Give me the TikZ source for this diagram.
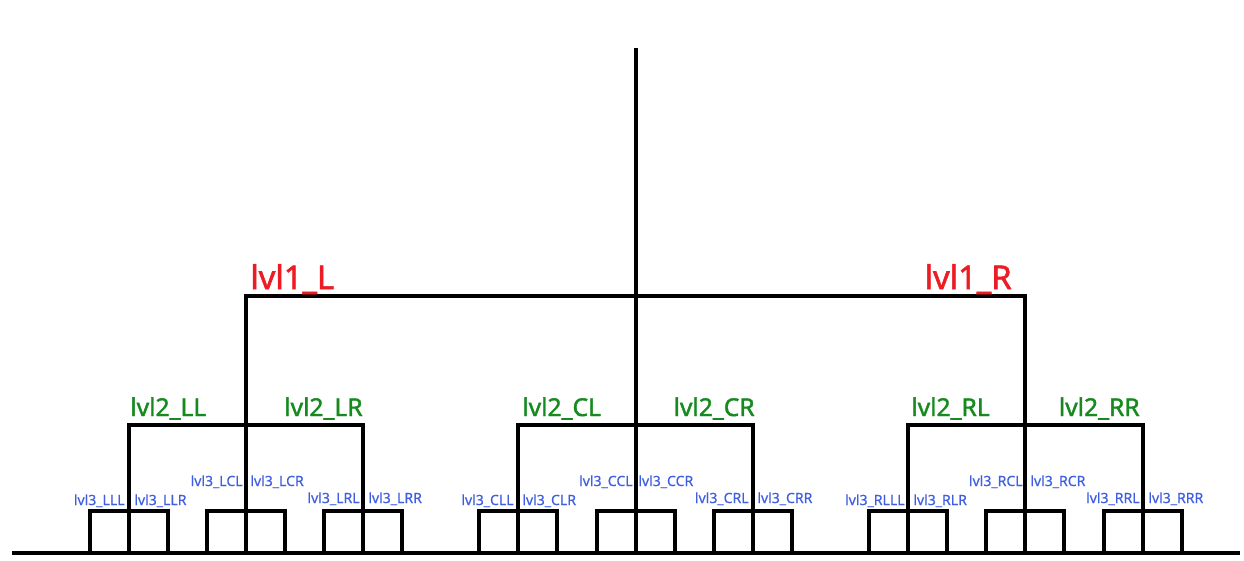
\documentclass[tikz,border=0pt]{standalone}
\usepackage{fontspec}
\setmainfont{Noto Sans}
\newfontfamily\heavyfont{Noto Sans}[FakeBold=1.6]
\newfontfamily\midfont{Noto Sans}[FakeBold=0.6]
\definecolor{lvlred}{HTML}{ED1C24}
\definecolor{lvlgreen}{HTML}{168A1E}
\definecolor{lvlblue}{HTML}{3F5FE0}
\begin{document}
\begin{tikzpicture}[x=0.02cm,y=-0.02cm,
  branch/.style={line width=2pt},
  lvlone/.style={text=lvlred, inner sep=0pt, font=\heavyfont\fontsize{18.6}{20}\selectfont},
  lvltwo/.style={text=lvlgreen, inner sep=0pt, font=\heavyfont\fontsize{14}{15}\selectfont},
  lvlthree/.style={text=lvlblue, inner sep=0pt, font=\midfont\fontsize{8}{9}\selectfont}]
\useasboundingbox (0,0) rectangle (1244,561);
% ground and trunk
\coordinate (gl) at (12,553);
\coordinate (gr) at (1240,553);
\coordinate (top) at (636,48);
\draw[branch] (gl) -- (gr);
\draw[branch] (top) -- (636,553);
% level 1
\coordinate (L) at (246,296);
\coordinate (R) at (1025,296);
\draw[branch] (L |- gl) -- (L) -- (R) -- (R |- gl);
% level 2
\coordinate (LL) at (129,425);
\coordinate (LR) at (363,425);
\coordinate (CL) at (518,425);
\coordinate (CR) at (753,425);
\coordinate (RL) at (908,425);
\coordinate (RR) at (1143,425);
\draw[branch] (LL |- gl) -- (LL) -- (LR) -- (LR |- gl);
\draw[branch] (CL |- gl) -- (CL) -- (CR) -- (CR |- gl);
\draw[branch] (RL |- gl) -- (RL) -- (RR) -- (RR |- gl);
% level 3
\foreach \x in {129,246,363,518,636,753,908,1025,1143}
  \draw[branch] (\x-39,553) -- (\x-39,511) -- (\x+39,511) -- (\x+39,553);
% labels
\node[lvlone, anchor=base west] (l1L) at (250,289) {lvl1\_L};
\node[lvlone, anchor=base east] (l1R) at (1012,289) {lvl1\_R};
\node[lvltwo, anchor=base west] (l2LL) at (130,416) {lvl2\_LL};
\node[lvltwo, anchor=base east] (l2LR) at (363,416) {lvl2\_LR};
\node[lvltwo, anchor=base west] (l2CL) at (522,416) {lvl2\_CL};
\node[lvltwo, anchor=base east] (l2CR) at (755,416) {lvl2\_CR};
\node[lvltwo, anchor=base west] (l2RL) at (911,416) {lvl2\_RL};
\node[lvltwo, anchor=base east] (l2RR) at (1140,416) {lvl2\_RR};
\node[lvlthree, anchor=base east] (l3LLL) at (125,505) {lvl3\_LLL};
\node[lvlthree, anchor=base west] (l3LLR) at (134,505) {lvl3\_LLR};
\node[lvlthree, anchor=base east] (l3LCL) at (243,486) {lvl3\_LCL};
\node[lvlthree, anchor=base west] (l3LCR) at (250,486) {lvl3\_LCR};
\node[lvlthree, anchor=base east] (l3LRL) at (360,503) {lvl3\_LRL};
\node[lvlthree, anchor=base west] (l3LRR) at (368,503) {lvl3\_LRR};
\node[lvlthree, anchor=base east] (l3CLL) at (514,505) {lvl3\_CLL};
\node[lvlthree, anchor=base west] (l3CLR) at (522,505) {lvl3\_CLR};
\node[lvlthree, anchor=base east] (l3CCL) at (633,486) {lvl3\_CCL};
\node[lvlthree, anchor=base west] (l3CCR) at (638,486) {lvl3\_CCR};
\node[lvlthree, anchor=base east] (l3CRL) at (749,503) {lvl3\_CRL};
\node[lvlthree, anchor=base west] (l3CRR) at (757,503) {lvl3\_CRR};
\node[lvlthree, anchor=base east] (l3RLLL) at (905,505) {lvl3\_RLLL};
\node[lvlthree, anchor=base west] (l3RLR) at (913,505) {lvl3\_RLR};
\node[lvlthree, anchor=base east] (l3RCL) at (1023,486) {lvl3\_RCL};
\node[lvlthree, anchor=base west] (l3RCR) at (1030,486) {lvl3\_RCR};
\node[lvlthree, anchor=base east] (l3RRL) at (1140,503) {lvl3\_RRL};
\node[lvlthree, anchor=base west] (l3RRR) at (1148,503) {lvl3\_RRR};
\end{tikzpicture}
\end{document}
